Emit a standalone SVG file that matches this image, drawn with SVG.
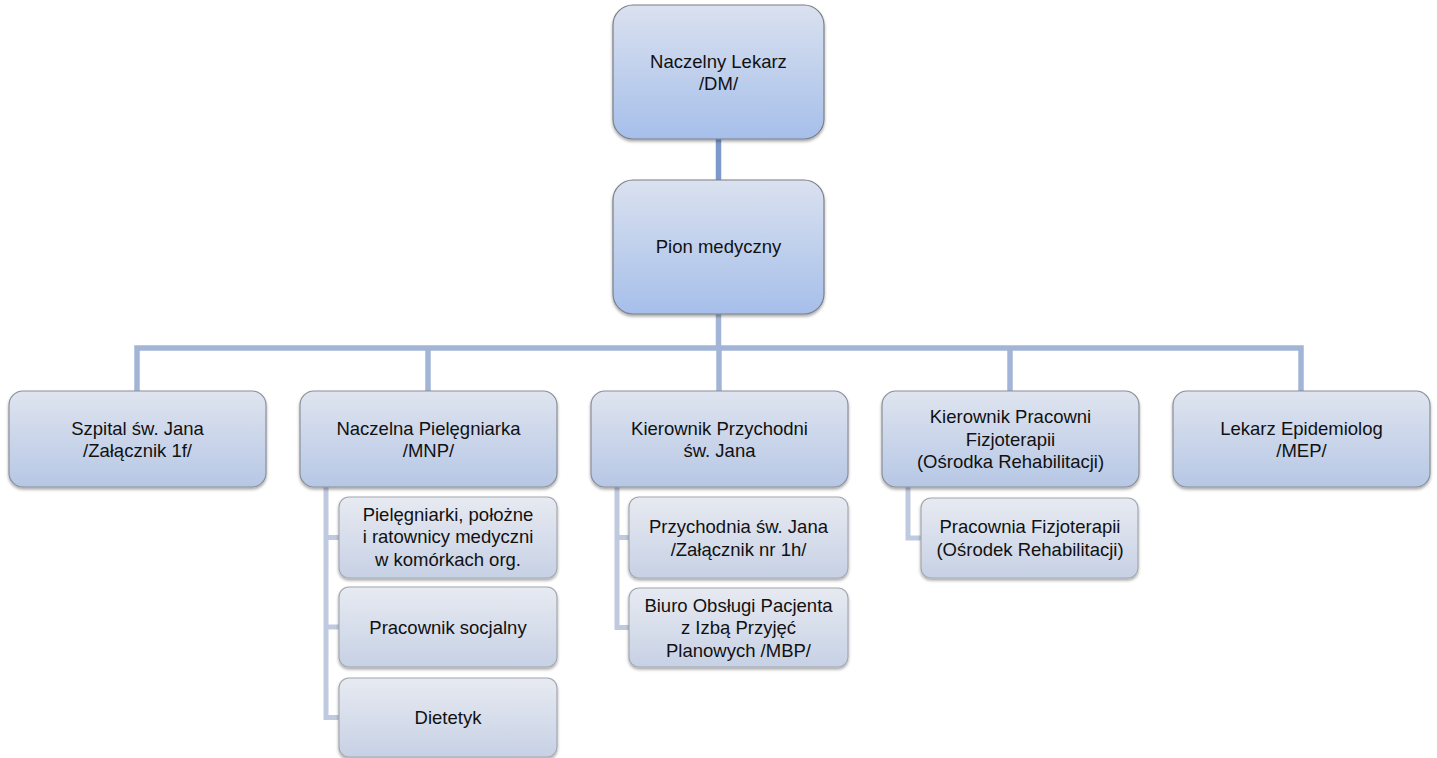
<svg xmlns="http://www.w3.org/2000/svg" width="1437" height="758" viewBox="0 0 1437 758">
<defs>
<linearGradient id="gTop" x1="0" y1="0" x2="0" y2="1">
<stop offset="0" stop-color="#dae1ef"/>
<stop offset="1" stop-color="#a6bfea"/>
</linearGradient>
<linearGradient id="gL2" x1="0" y1="0" x2="0" y2="1">
<stop offset="0" stop-color="#dfe4ef"/>
<stop offset="1" stop-color="#b6c7e5"/>
</linearGradient>
<linearGradient id="gSub" x1="0" y1="0" x2="0" y2="1">
<stop offset="0" stop-color="#e7eaf1"/>
<stop offset="1" stop-color="#c7d1e5"/>
</linearGradient>
<filter id="sh" x="-10%" y="-10%" width="120%" height="130%">
<feDropShadow dx="0" dy="2" stdDeviation="1.8" flood-color="#000" flood-opacity="0.35"/>
</filter>
</defs>
<style>
.top{fill:url(#gTop);stroke:#7a7f88;stroke-width:1.2;filter:url(#sh)}
.l2{fill:url(#gL2);stroke:#8a8f98;stroke-width:1.2;filter:url(#sh)}
.sub{fill:url(#gSub);stroke:#a3a8b0;stroke-width:1.2;filter:url(#sh)}
text{font-family:"Liberation Sans",Arial,sans-serif;font-size:18.5px;fill:#111;text-anchor:middle}
.c1{fill:none;stroke:#7b9acb;stroke-width:5.5}
.c2{fill:none;stroke:#a2b5d6;stroke-width:5.5}
.c3{fill:none;stroke:#bfcae0;stroke-width:5}
</style>
<g id="connectors">
<line class="c1" x1="718.5" y1="139" x2="718.5" y2="180"/>
<line class="c2" x1="718.5" y1="314" x2="718.5" y2="348"/>
<polyline class="c2" points="137,392 137,348 1301,348 1301,392"/>
<line class="c2" x1="428" y1="348" x2="428" y2="392"/>
<line class="c2" x1="719" y1="348" x2="719" y2="392"/>
<line class="c2" x1="1010" y1="348" x2="1010" y2="392"/>
<polyline class="c3" points="326,487 326,717.5 340,717.5"/>
<line class="c3" x1="326" y1="537.5" x2="340" y2="537.5"/>
<line class="c3" x1="326" y1="627" x2="340" y2="627"/>
<polyline class="c3" points="617,487 617,627.5 630,627.5"/>
<line class="c3" x1="617" y1="537.5" x2="630" y2="537.5"/>
<polyline class="c3" points="908,487 908,538 921,538"/>
</g>
<g id="n-naczelny-lekarz">
<rect class="top" x="613" y="5" width="211" height="134" rx="20"/>
<text x="718.5" y="67.5">Naczelny Lekarz</text>
<text x="718.5" y="90">/DM/</text>
</g>
<g id="n-pion">
<rect class="top" x="613" y="180" width="211" height="134" rx="20"/>
<text x="718.5" y="253">Pion medyczny</text>
</g>
<g id="n-szpital">
<rect class="l2" x="9" y="391" width="257" height="96" rx="14"/>
<text x="137.5" y="434.5">Szpital św. Jana</text>
<text x="137.5" y="457">/Załącznik 1f/</text>
</g>
<g id="n-pielegniarka">
<rect class="l2" x="300" y="391" width="257" height="96" rx="14"/>
<text x="428.5" y="434.5">Naczelna Pielęgniarka</text>
<text x="428.5" y="457">/MNP/</text>
</g>
<g id="n-przychodnia">
<rect class="l2" x="591" y="391" width="257" height="96" rx="14"/>
<text x="719.5" y="434.5">Kierownik Przychodni</text>
<text x="719.5" y="457">św. Jana</text>
</g>
<g id="n-pracownia">
<rect class="l2" x="882" y="391" width="257" height="96" rx="14"/>
<text x="1010.5" y="423">Kierownik Pracowni</text>
<text x="1010.5" y="445.5">Fizjoterapii</text>
<text x="1010.5" y="468">(Ośrodka Rehabilitacji)</text>
</g>
<g id="n-epidemiolog">
<rect class="l2" x="1173" y="391" width="257" height="96" rx="14"/>
<text x="1301.5" y="434.5">Lekarz Epidemiolog</text>
<text x="1301.5" y="457">/MEP/</text>
</g>
<g id="n-pielegniarki">
<rect class="sub" x="339" y="497" width="218" height="81" rx="10"/>
<text x="448" y="520.5">Pielęgniarki, położne</text>
<text x="448" y="543">i ratownicy medyczni</text>
<text x="448" y="565.5">w komórkach org.</text>
</g>
<g id="n-socjalny">
<rect class="sub" x="339" y="587" width="218" height="80" rx="10"/>
<text x="448" y="633.5">Pracownik socjalny</text>
</g>
<g id="n-dietetyk">
<rect class="sub" x="339" y="678" width="218" height="79" rx="10"/>
<text x="448" y="724">Dietetyk</text>
</g>
<g id="n-przychodnia-sw-jana">
<rect class="sub" x="629" y="497" width="219" height="81" rx="10"/>
<text x="738.5" y="533">Przychodnia św. Jana</text>
<text x="738.5" y="555.5">/Załącznik nr 1h/</text>
</g>
<g id="n-biuro">
<rect class="sub" x="629" y="588" width="219" height="79" rx="10"/>
<text x="738.5" y="611.5">Biuro Obsługi Pacjenta</text>
<text x="738.5" y="634">z Izbą Przyjęć</text>
<text x="738.5" y="656.5">Planowych /MBP/</text>
</g>
<g id="n-pracownia-fizjo">
<rect class="sub" x="921" y="498" width="217" height="80" rx="10"/>
<text x="1030" y="533">Pracownia Fizjoterapii</text>
<text x="1030" y="555.5">(Ośrodek Rehabilitacji)</text>
</g>
</svg>
